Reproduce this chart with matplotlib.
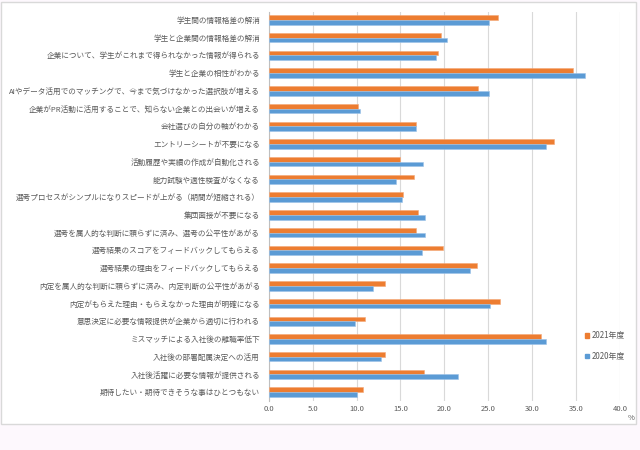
import numpy as np
import matplotlib.pyplot as plt
from matplotlib.patches import Rectangle, Patch

plt.rcParams['font.family'] = ['Noto Sans CJK JP', 'DejaVu Sans']

labels = [
    "学生間の情報格差の解消",
    "学生と企業間の情報格差の解消",
    "企業について、学生がこれまで得られなかった情報が得られる",
    "学生と企業の相性がわかる",
    "AIやデータ活用でのマッチングで、今まで気づけなかった選択肢が増える",
    "企業がPR活動に活用することで、知らない企業との出会いが増える",
    "会社選びの自分の軸がわかる",
    "エントリーシートが不要になる",
    "活動履歴や実績の作成が自動化される",
    "能力試験や適性検査がなくなる",
    "選考プロセスがシンプルになりスピードが上がる（期間が短縮される）",
    "集団面接が不要になる",
    "選考を属人的な判断に頼らずに済み、選考の公平性があがる",
    "選考結果のスコアをフィードバックしてもらえる",
    "選考結果の理由をフィードバックしてもらえる",
    "内定を属人的な判断に頼らずに済み、内定判断の公平性があがる",
    "内定がもらえた理由・もらえなかった理由が明確になる",
    "意思決定に必要な情報提供が企業から適切に行われる",
    "ミスマッチによる入社後の離職率低下",
    "入社後の部署配属決定への活用",
    "入社後活躍に必要な情報が提供される",
    "期待したい・期待できそうな事はひとつもない",
]
y2021 = [26.1, 19.6, 19.3, 34.7, 23.8, 10.2, 16.8, 32.5, 14.95, 16.5, 15.3,
         17.0, 16.8, 19.9, 23.7, 13.25, 26.3, 11.0, 31.0, 13.2, 17.65, 10.7]
y2020 = [25.1, 20.3, 19.05, 36.0, 25.1, 10.4, 16.8, 31.6, 17.6, 14.5, 15.2,
         17.8, 17.8, 17.4, 22.9, 11.9, 25.2, 9.8, 31.6, 12.75, 21.5, 10.05]
xticks = [0, 5, 10, 15, 20, 25, 30, 35, 40]

orange = '#ED7D31'
blue = '#5B9BD5'
gray = '#595959'

fig = plt.figure(figsize=(6.4, 4.5), dpi=100)
fig.patch.set_facecolor('#fdf8fd')
# white chart area with thin grey frame
bg = Rectangle((1/640, 26/450), 635/640, 422/450, transform=fig.transFigure,
               facecolor='white', edgecolor='#d9d9d9', linewidth=1, zorder=-5)
fig.add_artist(bg)

ax = fig.add_axes([268.7/640, 49/450, (620-268.7)/640, (438-49)/450])
ax.set_zorder(2)
ax.set_facecolor('none')

pos = np.arange(len(labels))
h = 0.265
ax.barh(pos - h/2, y2021, height=h, color=orange, edgecolor='#f4a878', linewidth=0.4, label='2021年度', zorder=3)
ax.barh(pos + h/2, y2020, height=h, color=blue, edgecolor='#9cc3e8', linewidth=0.4, label='2020年度', zorder=3)

ax.set_ylim(21.5, -0.45)
ax.set_xlim(0, 40)
ax.set_yticks(pos)
ax.set_yticklabels(labels, fontsize=5.5, color=gray)
ax.set_xticks(xticks)
ax.set_xticklabels([f"{t:.1f}" for t in xticks], fontsize=5.5, color=gray)
ax.tick_params(axis='y', length=0, pad=6.3)
ax.tick_params(axis='x', length=0, pad=3)
ax.grid(axis='x', color='#d9d9d9', linewidth=0.8, zorder=0)
for s in ['top', 'right', 'bottom']:
    ax.spines[s].set_visible(False)
ax.spines['left'].set_color('#bfbfbf')
ax.spines['left'].set_linewidth(0.8)

handles = [Patch(color=orange, label='2021年度'), Patch(color=blue, label='2020年度')]
fig.legend(handles=handles, loc='center left', bbox_to_anchor=(578/640, 1 - 346/450),
           frameon=False, fontsize=5.7, labelcolor=gray, handlelength=0.55, handleheight=0.55,
           handletextpad=0.3, labelspacing=1.45)

fig.text(631/640, 1 - 418/450, '%', fontsize=5.5, color=gray, ha='center', va='center')

fig.savefig('out.png', dpi=100, facecolor=fig.get_facecolor())
